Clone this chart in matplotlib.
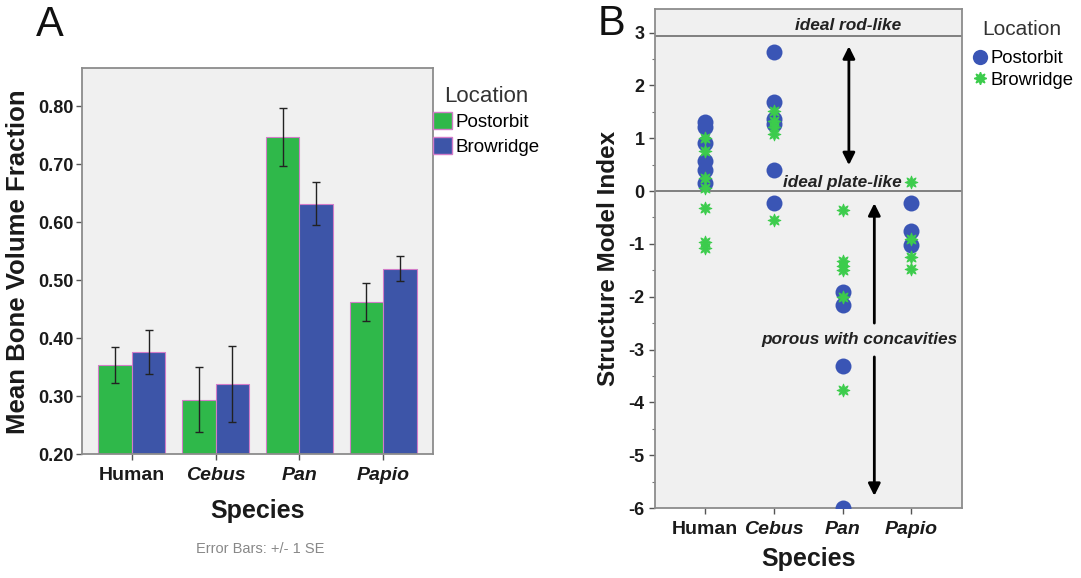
import numpy as np
import matplotlib.pyplot as plt
from matplotlib.patches import Patch
from matplotlib.lines import Line2D

plt.rcParams["font.family"] = ["Liberation Sans", "DejaVu Sans"]

# data
species = ["Human", "Cebus", "Pan", "Papio"]
italic_species = [False, True, True, True]

# panel A: mean bone volume fraction, +/- 1 SE
bv_post = [0.354, 0.294, 0.746, 0.462]
bv_post_se = [0.031, 0.056, 0.050, 0.033]
bv_brow = [0.376, 0.321, 0.632, 0.520]
bv_brow_se = [0.038, 0.066, 0.037, 0.021]

# panel B: structure model index, individual specimens
smi_post = {
    "Human": [1.30, 1.21, 0.90, 0.56, 0.40, 0.16],
    "Cebus": [2.64, 1.68, 1.37, 1.27, 0.39, -0.22],
    "Pan": [-1.91, -2.16, -3.32, -6.0],
    "Papio": [-0.23, -0.76, -1.02],
}
smi_brow = {
    "Human": [1.00, 0.75, 0.24, 0.05, -0.33, -0.96, -1.07],
    "Cebus": [1.52, 1.32, 1.22, 1.08, -0.54],
    "Pan": [-0.35, -1.33, -1.42, -1.50, -2.01, -3.76],
    "Papio": [0.18, -0.90, -1.25, -1.47],
}

green = "#2fb84a"
blue = "#3d55a8"
dot_blue = "#3a55b5"
dot_green = "#3ccc4c"
edge = "#d27cc8"
bg = "#f0f0f0"
spine_c = "#8c8c8c"
txt = "#1a1a1a"

fig = plt.figure(figsize=(10.81, 5.78), dpi=100)

# ---------------- panel A ----------------
axA = fig.add_axes([0.0756, 0.214, 0.3252, 0.6678])
axA.set_facecolor(bg)
x = np.arange(len(species))
w = 0.4
axA.bar(x - w / 2, bv_post, w, color=green, edgecolor=edge, linewidth=0.8, zorder=2)
axA.bar(x + w / 2, bv_brow, w, color=blue, edgecolor=edge, linewidth=0.8, zorder=2)
axA.errorbar(x - w / 2, bv_post, yerr=bv_post_se, fmt="none", ecolor="#222222",
             elinewidth=1.0, capsize=2.8, capthick=1.0, zorder=3)
axA.errorbar(x + w / 2, bv_brow, yerr=bv_brow_se, fmt="none", ecolor="#222222",
             elinewidth=1.0, capsize=2.8, capthick=1.0, zorder=3)
axA.set_xlim(-0.6, 3.6)
axA.set_ylim(0.2, 0.865)
axA.set_yticks([0.2, 0.3, 0.4, 0.5, 0.6, 0.7, 0.8])
axA.set_yticklabels([f"{v:.2f}" for v in axA.get_yticks()], fontsize=13,
                    fontweight="bold", color=txt)
axA.set_xticks(x)
axA.set_xticklabels(species, fontsize=14, fontweight="bold", color=txt)
for lab, it in zip(axA.get_xticklabels(), italic_species):
    if it:
        lab.set_fontstyle("italic")
axA.tick_params(axis="both", direction="out", length=4, width=1, color="#555555")
axA.tick_params(axis="y", pad=2)
axA.tick_params(axis="x", pad=5)
for s in axA.spines.values():
    s.set_color(spine_c)
    s.set_linewidth(1.3)
axA.set_ylabel("Mean Bone Volume Fraction", fontsize=18.5, fontweight="bold",
               color=txt, labelpad=6)
axA.set_xlabel("Species", fontsize=18, fontweight="bold", color=txt, labelpad=11)

legA = axA.legend(handles=[Patch(facecolor=green, edgecolor=edge, label="Postorbit"),
                           Patch(facecolor=blue, edgecolor=edge, label="Browridge")],
                  title="Location", loc="upper left", bbox_to_anchor=(1.0, 0.955),
                  frameon=False, fontsize=13.5, title_fontsize=16,
                  handlelength=1.0, handleheight=1.0, handletextpad=0.2,
                  labelspacing=0.3, borderpad=0, borderaxespad=0)
legA.get_title().set_color("#333333")

fig.text(0.241, 0.050, "Error Bars: +/- 1 SE", fontsize=10.5, color="#888888",
         ha="center", va="center")

# ---------------- panel B ----------------
axB = fig.add_axes([0.6059, 0.1211, 0.2837, 0.8628])
axB.set_facecolor(bg)
for i, sp in enumerate(species):
    axB.plot([i] * len(smi_post[sp]), smi_post[sp], "o", color=dot_blue,
             markersize=11.5, markeredgewidth=0, zorder=3)
for i, sp in enumerate(species):
    axB.plot([i] * len(smi_brow[sp]), smi_brow[sp], marker=(8, 1, 0), linestyle="none",
             color=dot_green, markersize=9.5, markeredgewidth=0.6,
             markeredgecolor=dot_green, zorder=4)

axB.axhline(2.94, color="#777777", lw=1.3, zorder=2)
axB.axhline(0, color="#777777", lw=1.3, zorder=2)
axB.set_xlim(-0.73, 3.73)
axB.set_ylim(-6, 3.44)
axB.set_yticks(range(-6, 4))
axB.set_yticks(np.arange(-6, 3.5, 0.5), minor=True)
axB.set_yticklabels([str(v) for v in range(-6, 4)], fontsize=13, fontweight="bold",
                    color=txt)
axB.set_xticks(x)
axB.set_xticklabels(species, fontsize=14, fontweight="bold", color=txt)
for lab, it in zip(axB.get_xticklabels(), italic_species):
    if it:
        lab.set_fontstyle("italic")
axB.tick_params(axis="both", which="major", direction="out", length=4, width=1,
                color="#555555")
axB.tick_params(axis="y", which="minor", direction="out", length=2.5, width=0.8,
                color="#777777")
axB.tick_params(axis="x", pad=5)
for s in axB.spines.values():
    s.set_color(spine_c)
    s.set_linewidth(1.3)
axB.set_ylabel("Structure Model Index", fontsize=17.5, fontweight="bold", color=txt,
               labelpad=6)
axB.set_xlabel("Species", fontsize=18, fontweight="bold", color=txt, labelpad=7)

note = dict(fontsize=12.4, fontweight="bold", fontstyle="italic", color="#222222",
            ha="center", va="center", zorder=5)
axB.text(2.08, 3.13, "ideal rod-like", **note)
axB.text(2.0, 0.16, "ideal plate-like", **note)
axB.text(2.25, -2.81, "porous with concavities", **note)

arr = dict(arrowstyle="-|>", color="black", lw=2, mutation_scale=18,
           shrinkA=0, shrinkB=0)
axB.annotate("", xy=(2.09, 2.74), xytext=(2.09, 0.49),
             arrowprops=dict(arr, arrowstyle="<|-|>"))
axB.annotate("", xy=(2.46, -0.23), xytext=(2.46, -2.5), arrowprops=arr)
axB.annotate("", xy=(2.46, -5.77), xytext=(2.46, -3.14), arrowprops=arr)

legB = axB.legend(handles=[Line2D([], [], marker="o", linestyle="none", color=dot_blue,
                                  markersize=11, markeredgewidth=0, label="Postorbit"),
                           Line2D([], [], marker=(8, 1, 0), linestyle="none",
                                  color=dot_green, markersize=9, label="Browridge")],
                  loc="upper left", bbox_to_anchor=(1.035, 0.918),
                  frameon=False, fontsize=13.3,
                  handlelength=0.8, handletextpad=0.2, labelspacing=0.25,
                  borderpad=0, borderaxespad=0)
fig.text(0.9454, 0.9498, "Location", fontsize=15, color="#333333",
         ha="center", va="center")

fig.text(0.046, 0.957, "A", fontsize=30, ha="center", va="center", color="#111111")
fig.text(0.566, 0.958, "B", fontsize=30, ha="center", va="center", color="#111111")

fig.savefig("out.png", dpi=100)
